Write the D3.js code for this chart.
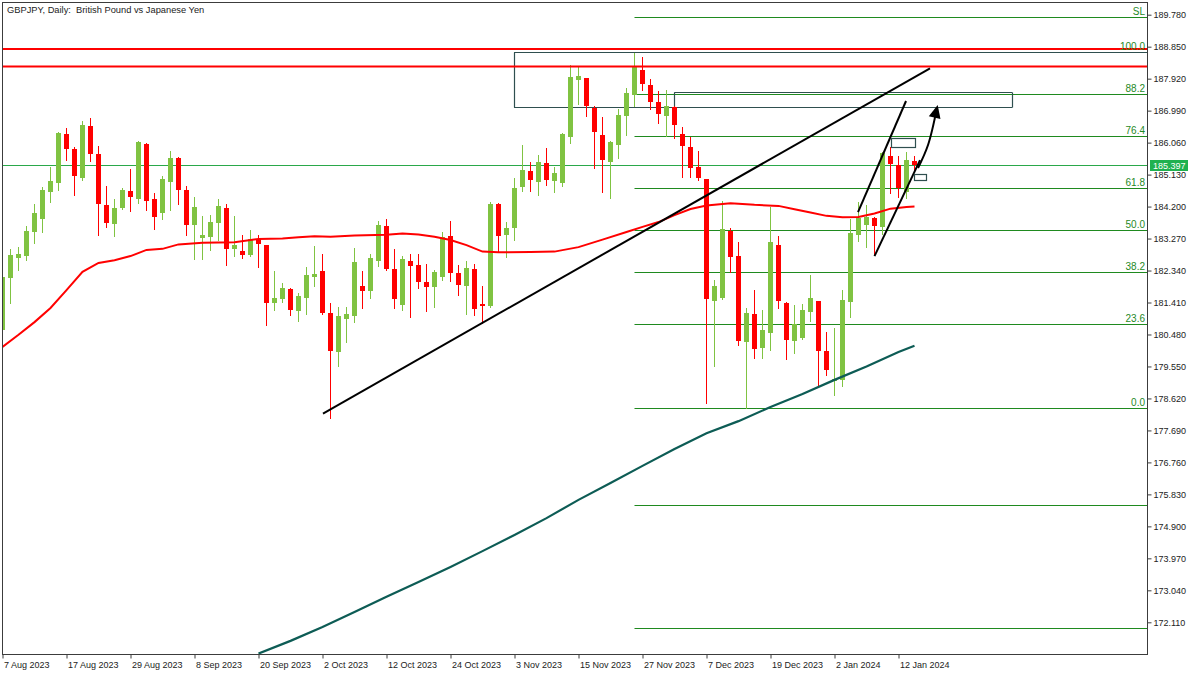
<!DOCTYPE html>
<html><head><meta charset="utf-8">
<script src="https://cdn.jsdelivr.net/npm/d3@7"></script>
<style>body{margin:0;background:#fff}svg{display:block}text{font-family:"Liberation Sans",Arial,sans-serif}</style>
</head><body>
<svg id="c" width="1200" height="675"></svg>
<script>
// ---------- DATA ----------
const title = "GBPJPY, Daily:  British Pound vs Japanese Yen";
const openP = [180.61,182.12,182.70,182.76,183.46,183.84,184.62,184.89,186.31,185.87,185.03,186.54,185.73,184.25,183.69,184.16,184.65,184.42,186.02,184.42,184.01,184.91,185.61,184.68,183.66,183.29,183.32,183.72,184.16,182.97,182.91,182.79,183.26,183.08,181.40,181.51,181.80,181.16,181.54,182.15,182.33,181.10,179.97,180.93,181.02,181.89,181.74,182.62,183.64,182.38,181.34,182.62,182.50,182.01,181.86,182.15,183.34,182.27,181.89,182.38,181.37,181.31,184.27,183.37,183.58,184.77,185.23,184.91,185.47,184.94,184.89,186.22,187.88,187.94,187.07,186.28,185.50,185.99,186.83,187.44,188.17,187.74,187.24,186.83,187.10,186.31,185.93,185.35,185.00,181.45,181.54,183.49,182.76,180.26,181.08,180.09,180.52,183.08,181.40,180.29,180.38,181.13,181.45,180.00,179.16,179.16,181.42,183.37,183.66,183.87,183.61,185.67,185.41,184.62,185.53];
const highP = [182.30,182.97,183.02,183.64,184.27,184.77,185.35,186.36,186.48,185.93,186.69,186.78,185.96,184.80,184.42,184.74,185.29,186.10,186.04,184.60,185.09,185.82,185.64,184.80,184.48,183.93,183.95,184.42,184.27,183.93,183.37,183.52,183.37,183.09,182.33,181.98,181.83,181.69,182.44,183.05,182.82,181.40,181.28,181.28,182.99,182.33,182.82,183.78,183.84,182.97,182.76,182.82,182.82,182.53,182.36,183.46,183.78,182.50,182.62,182.53,181.89,184.33,184.29,183.75,185.03,185.99,185.50,185.70,185.90,185.35,186.34,188.32,188.26,187.95,187.12,186.80,186.11,187.04,187.65,188.67,188.55,187.91,187.56,187.59,187.12,186.51,186.22,185.82,185.01,182.07,184.36,183.58,183.17,181.25,181.77,181.19,184.19,183.34,181.43,181.34,181.37,182.21,181.46,180.55,180.67,181.77,183.84,184.33,184.25,183.90,185.78,185.93,185.67,185.79,185.67];
const lowP = [180.52,181.40,182.36,182.64,183.14,183.46,184.33,184.68,185.55,184.54,184.97,185.53,183.37,183.61,183.34,184.13,184.07,184.30,184.10,183.55,183.84,184.10,184.27,183.37,182.67,182.67,182.94,183.23,182.50,182.76,182.70,182.77,182.44,180.76,181.19,181.42,181.05,180.87,181.08,181.89,181.08,178.05,179.56,180.26,180.84,181.25,181.54,182.47,182.36,181.25,181.19,180.99,181.83,181.16,181.28,182.07,182.04,181.63,181.08,181.05,180.81,181.29,182.91,182.73,183.23,184.65,184.65,184.54,184.83,184.62,184.80,186.05,187.18,186.83,185.32,184.62,184.45,185.61,186.28,187.12,187.59,187.04,186.63,186.25,186.19,185.06,185.06,184.97,178.49,179.56,181.52,182.30,180.17,178.34,179.80,179.80,180.03,181.25,179.77,179.94,180.35,180.87,178.95,179.30,178.72,178.98,180.99,183.20,183.02,182.79,183.40,184.60,184.48,184.45,185.23];
const closeP = [182.15,182.79,182.82,183.49,184.01,184.68,184.94,186.34,185.87,185.09,186.57,185.73,184.27,183.72,184.16,184.68,184.48,186.08,184.36,183.90,185.00,185.61,184.68,183.66,184.19,183.37,183.75,184.22,182.97,183.08,182.79,183.26,183.11,181.40,181.54,181.83,181.19,181.60,182.21,182.24,181.10,180.00,181.02,181.08,182.59,181.74,182.70,183.66,182.38,181.51,182.67,182.47,182.01,181.86,182.30,183.32,182.27,181.92,182.41,181.22,181.31,184.27,183.34,183.58,184.74,185.26,184.97,185.50,184.97,185.18,186.31,187.97,188.00,187.12,186.37,185.55,186.08,186.86,187.50,188.29,187.76,187.24,186.89,187.12,186.57,185.96,185.32,185.03,181.51,181.89,183.55,182.73,180.29,181.10,180.06,180.61,183.17,181.45,180.32,180.78,181.19,181.54,180.00,179.45,179.19,181.48,183.43,183.87,183.90,183.64,185.76,185.44,184.74,185.55,185.397];

// moving averages (bar index, value)
const maRedBars = [0,2,4,6,8,10,12,14,16,18,20,22,25,29,32,35,37,39,41,44,48,50,52,54,56,58,60,62,66,69,72,75,78,80,82,84,86,88,91,94,97,99,101,103,105,107,109,111,113,114];
const maRedVals = [180.12,180.47,180.84,181.25,181.77,182.30,182.56,182.64,182.76,182.94,182.97,183.10,183.15,183.16,183.26,183.27,183.31,183.34,183.32,183.36,183.38,183.42,183.39,183.32,183.23,183.08,182.89,182.87,182.88,182.89,183.02,183.24,183.46,183.61,183.75,183.95,184.13,184.23,184.30,184.25,184.22,184.12,184.03,183.93,183.89,183.90,184.00,184.14,184.19,184.20];
const maTealBars = [32,36,40,44,48,52,56,60,64,68,72,76,80,84,88,92,96,100,104,108,112,114];
const maTealVals = [171.20,171.57,171.97,172.41,172.85,173.28,173.72,174.18,174.65,175.14,175.67,176.16,176.66,177.15,177.61,177.96,178.37,178.75,179.16,179.55,179.97,180.15];

// axis ticks
const yTicks = [189.78,188.85,187.92,186.99,186.06,185.13,184.20,183.27,182.34,181.41,180.48,179.55,178.62,177.69,176.76,175.83,174.90,173.97,173.04,172.11];
const xTickLabels = ["7 Aug 2023","17 Aug 2023","29 Aug 2023","8 Sep 2023","20 Sep 2023","2 Oct 2023","12 Oct 2023","24 Oct 2023","3 Nov 2023","15 Nov 2023","27 Nov 2023","7 Dec 2023","19 Dec 2023","2 Jan 2024","12 Jan 2024"];
const xTickBars = [0,8,16,24,32,40,48,56,64,72,80,88,96,104,112];

// fibonacci
const fibStartBar = 79;
const fibHigh = 188.684, fibLow = 178.333;
const fibLevels = [110,100,88.2,76.4,61.8,50,38.2,23.6,0,-27.2,-61.8];
const fibLabels = ["SL","100.0","88.2","76.4","61.8","50.0","38.2","23.6","0.0","",""];

// drawn objects
const redLevels = [188.78,188.27];
const currentPrice = 185.397;
const trendLine = [[40.06,178.18],[115.94,188.22]];
const channelUpper = [[106.94,184.04],[112.94,187.27]];
const channelLower = [[109.0,182.76],[114.69,185.55]];
const arrowPts = [[114.44,185.32],[115.69,185.99],[116.81,187.07]];
const bigBox = {x0:63.94, x1:160, xb:126.23, top:188.69, bottom:187.11};
const smallBox = {x0:83.97, x1:126.23, top:187.52, bottom:187.11};
const smallRects = [{x0:111.0,x1:114.0,top:186.18,bottom:185.92},{x0:113.94,x1:115.44,top:185.15,bottom:184.96}];

// ---------- DRAW ----------
const svg = d3.select("#c");
const L=2, T=2, R=1147, B=654;
const x = d3.scaleLinear().domain([0,143]).range([2.5,1146.5]);
const y = d3.scaleLinear().domain([172.11,189.78]).range([622.3,14.7]);

const GREEN="#80c342", RED="#ff0000", FIB="#1f8a1f", BOX="#2f4f4f";

svg.append("rect").attr("width",1200).attr("height",675).attr("fill","#fff");
svg.append("clipPath").attr("id","clip").append("rect").attr("x",L+1).attr("y",T+1).attr("width",R-L-1).attr("height",B-T-1);
const g = svg.append("g").attr("clip-path","url(#clip)");
const line = d3.line().x(d=>x(d[0])).y(d=>y(d[1]));
const ry = v => Math.round(y(v));

// fib lines
fibLevels.forEach(l=>{
  const p = fibLow + (fibHigh-fibLow)*l/100;
  g.append("line").attr("x1",x(fibStartBar)).attr("x2",R).attr("y1",ry(p)+0.5).attr("y2",ry(p)+0.5)
    .attr("stroke",FIB).attr("stroke-width",1.2);
});
// current price line
g.append("line").attr("x1",L).attr("x2",R).attr("y1",ry(currentPrice)+0.5).attr("y2",ry(currentPrice)+0.5)
  .attr("stroke","#2aa84a").attr("stroke-width",1);

// boxes
function hseg(b0,b1,p){g.append("line").attr("x1",x(b0)).attr("x2",x(b1)).attr("y1",ry(p)+0.5).attr("y2",ry(p)+0.5).attr("stroke",BOX).attr("stroke-width",1.2);}
function vseg(b,p0,p1){g.append("line").attr("x1",Math.round(x(b))+0.5).attr("x2",Math.round(x(b))+0.5).attr("y1",ry(p0)+0.5).attr("y2",ry(p1)+0.5).attr("stroke",BOX).attr("stroke-width",1.2);}
hseg(bigBox.x0,bigBox.x1,bigBox.top); hseg(bigBox.x0,bigBox.xb,bigBox.bottom); vseg(bigBox.x0,bigBox.top,bigBox.bottom);
hseg(smallBox.x0,smallBox.x1,smallBox.top); vseg(smallBox.x0,smallBox.top,smallBox.bottom); vseg(smallBox.x1,smallBox.top,smallBox.bottom);

// candles
const idx = d3.range(openP.length);
const cg = g.append("g");
idx.forEach(i=>{
  const o=openP[i],h=highP[i],l=lowP[i],c=closeP[i];
  const col = c>=o?GREEN:RED;
  const xc = x(i);
  cg.append("rect").attr("x",xc-0.5).attr("width",1).attr("y",ry(h)).attr("height",Math.max(1,ry(l)-ry(h)+1)).attr("fill",col);
  const t=ry(Math.max(o,c)), b=ry(Math.min(o,c));
  cg.append("rect").attr("x",xc-2.5).attr("width",5).attr("y",t).attr("height",Math.max(2,b-t)).attr("fill",col);
});

// moving averages
g.append("path").datum(maRedBars.map((b,i)=>[b,maRedVals[i]])).attr("d",line).attr("fill","none").attr("stroke",RED).attr("stroke-width",2);
g.append("path").datum(maTealBars.map((b,i)=>[b,maTealVals[i]])).attr("d",line).attr("fill","none").attr("stroke","#0d5c55").attr("stroke-width",2.2);

// fib labels
const fl = svg.append("g");
fibLevels.forEach((l,i)=>{
  if(!fibLabels[i]) return;
  const p = fibLow + (fibHigh-fibLow)*l/100;
  fl.append("text").attr("x",1145).attr("y",ry(p)-2).attr("text-anchor","end").attr("font-size",10).attr("fill",FIB).text(fibLabels[i]);
});

// red level lines
redLevels.forEach(p=>{
  g.append("line").attr("x1",L).attr("x2",R).attr("y1",y(p)).attr("y2",y(p)).attr("stroke",RED).attr("stroke-width",2);
});

// trend lines
[trendLine,channelUpper,channelLower].forEach(seg=>{
  g.append("path").datum(seg).attr("d",line).attr("fill","none").attr("stroke","#000").attr("stroke-width",2);
});
// arrow
g.append("path").datum(arrowPts).attr("d",d3.line().x(d=>x(d[0])).y(d=>y(d[1])).curve(d3.curveCatmullRom)).attr("fill","none").attr("stroke","#000").attr("stroke-width",2);
{
  const a=arrowPts[arrowPts.length-2], b=arrowPts[arrowPts.length-1];
  const x1=x(a[0]),y1=y(a[1]),x2=x(b[0]),y2=y(b[1]);
  const ang=Math.atan2(y2-y1,x2-x1), len=13, w=6;
  const tipX=x2+Math.cos(ang)*3, tipY=y2+Math.sin(ang)*3;
  const bx=tipX-Math.cos(ang)*len, by=tipY-Math.sin(ang)*len;
  const pts=[[tipX,tipY],[bx+Math.sin(ang)*w,by-Math.cos(ang)*w],[bx-Math.sin(ang)*w,by+Math.cos(ang)*w]];
  g.append("polygon").attr("points",pts.map(p=>p.join(",")).join(" ")).attr("fill","#000");
}
// small rectangles
smallRects.forEach(r=>{
  g.append("rect").attr("x",Math.round(x(r.x0))+0.5).attr("y",ry(r.top)+0.5)
   .attr("width",Math.round(x(r.x1)-x(r.x0))).attr("height",ry(r.bottom)-ry(r.top))
   .attr("fill","none").attr("stroke",BOX).attr("stroke-width",1.2);
});

// frame
svg.append("rect").attr("x",L+0.5).attr("y",T+0.5).attr("width",R-L).attr("height",B-T).attr("fill","none").attr("stroke","#3c3c3c").attr("stroke-width",1);

// y axis
const ya = svg.append("g").attr("transform",`translate(${R+0.5},0)`)
  .call(d3.axisRight(y).tickValues(yTicks).tickFormat(d3.format(".3f")).tickSize(4).tickPadding(2));
ya.select(".domain").remove();
ya.selectAll("line").attr("stroke","#3c3c3c");
ya.selectAll("text").attr("font-size",9).attr("fill","#222").attr("font-family","Liberation Sans, Arial, sans-serif");

// x axis
const xa = svg.append("g").attr("transform",`translate(0,${B+0.5})`)
  .call(d3.axisBottom(x).tickValues(xTickBars).tickFormat((d,i)=>xTickLabels[i]).tickSize(4).tickPadding(3));
xa.select(".domain").remove();
xa.selectAll("line").attr("stroke","#3c3c3c");
xa.selectAll("text").attr("font-size",9).attr("fill","#222").attr("text-anchor","start").attr("x",1).attr("font-family","Liberation Sans, Arial, sans-serif");

// current price label
const cy = y(currentPrice);
svg.append("rect").attr("x",1150).attr("y",Math.round(cy)-5).attr("width",38).attr("height",11).attr("fill","#1fb14f");
svg.append("text").attr("x",1153).attr("y",Math.round(cy)+4).attr("font-size",9).attr("fill","#fff").text(d3.format(".3f")(currentPrice));

// title
svg.append("text").attr("x",7).attr("y",13).attr("font-size",9.3).attr("fill","#222").style("white-space","pre").text(title);
</script>
</body></html>
